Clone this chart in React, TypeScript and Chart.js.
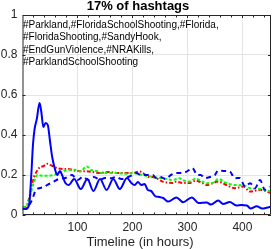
import React, { useEffect, useRef } from "react";
import { Chart, registerables } from "chart.js";

Chart.register(...registerables);

const titleText = "17% of hashtags";
const xAxisTitle = "Timeline (in hours)";
const annotationLines = [
  "#Parkland,#FloridaSchoolShooting,#Florida,",
  "#FloridaShooting,#SandyHook,",
  "#EndGunViolence,#NRAKills,",
  "#ParklandSchoolShooting",
];
const xTickValues = [100, 200, 300, 400];
const yTickValues = [0, 0.2, 0.4, 0.6, 0.8, 1];

const blueSolidHours = [0, 6, 12, 16, 19, 22, 26, 31, 34, 38, 42, 46, 50, 54, 59, 63, 68, 72, 78, 84, 94, 106, 118, 129, 141, 153, 165, 177, 190, 198, 204, 210, 216, 222, 228, 234, 241, 249, 256, 265, 280, 292, 308, 320, 335, 343, 356, 365, 377, 389, 398, 408, 415, 426, 436, 444, 452];
const blueSolidValues = [0.03, 0.03, 0.05, 0.2, 0.35, 0.43, 0.48, 0.56, 0.52, 0.44, 0.46, 0.45, 0.37, 0.29, 0.23, 0.2, 0.22, 0.2, 0.16, 0.15, 0.18, 0.13, 0.18, 0.12, 0.18, 0.125, 0.18, 0.13, 0.185, 0.16, 0.15, 0.165, 0.15, 0.155, 0.125, 0.12, 0.095, 0.09, 0.085, 0.067, 0.088, 0.064, 0.088, 0.06, 0.062, 0.052, 0.072, 0.055, 0.065, 0.048, 0.05, 0.048, 0.032, 0.044, 0.032, 0.036, 0.042];

const blueDashedHours = [0, 6, 12, 18, 24, 30, 39, 45, 57, 66, 78, 90, 100, 110, 120, 130, 141, 150, 160, 170, 180, 192, 200, 207, 215, 225, 237, 243, 251, 260, 270, 280, 290, 297, 303, 309, 318, 324, 332, 341, 350, 356, 368, 377, 386, 395, 405, 414, 423, 432, 441, 452];
const blueDashedValues = [0.03, 0.03, 0.05, 0.08, 0.125, 0.134, 0.14, 0.15, 0.167, 0.18, 0.185, 0.2, 0.175, 0.19, 0.175, 0.19, 0.176, 0.185, 0.184, 0.19, 0.18, 0.19, 0.2, 0.21, 0.2, 0.2, 0.2, 0.185, 0.19, 0.18, 0.2, 0.21, 0.21, 0.215, 0.225, 0.235, 0.2, 0.2, 0.184, 0.19, 0.2, 0.223, 0.22, 0.218, 0.184, 0.185, 0.142, 0.159, 0.134, 0.175, 0.126, 0.142];

const greenHours = [0, 6, 12, 18, 21, 27, 39, 57, 72, 87, 95, 105, 117, 125, 135, 141, 153, 171, 190, 201, 219, 237, 255, 273, 285, 291, 303, 315, 327, 335, 346, 356, 371, 386, 402, 414, 432, 452];
const greenValues = [0.04, 0.04, 0.075, 0.14, 0.167, 0.2, 0.196, 0.2, 0.218, 0.226, 0.226, 0.218, 0.243, 0.225, 0.22, 0.21, 0.21, 0.21, 0.206, 0.21, 0.2, 0.19, 0.184, 0.175, 0.184, 0.175, 0.167, 0.182, 0.167, 0.159, 0.16, 0.18, 0.16, 0.15, 0.148, 0.134, 0.13, 0.117];

const redHours = [0, 6, 12, 18, 21, 30, 39, 45, 54, 63, 75, 83, 98, 120, 141, 156, 174, 193, 201, 213, 219, 231, 237, 255, 273, 280, 291, 303, 315, 327, 335, 356, 371, 386, 402, 414, 432, 452];
const redValues = [0.04, 0.04, 0.084, 0.16, 0.19, 0.234, 0.246, 0.256, 0.246, 0.234, 0.23, 0.23, 0.22, 0.218, 0.21, 0.215, 0.21, 0.21, 0.21, 0.218, 0.21, 0.19, 0.19, 0.167, 0.16, 0.167, 0.16, 0.16, 0.172, 0.16, 0.15, 0.167, 0.15, 0.134, 0.142, 0.117, 0.126, 0.109];

const FONT = '"Liberation Sans", Arial, Helvetica, sans-serif';

const toPoints = (xs: number[], ys: number[]) => xs.map((x, i) => ({ x, y: ys[i] }));

const framePlugin = {
  id: "frame",
  afterDatasetsDraw(chart: any) {
    const { ctx, chartArea } = chart;
    const { left, right, top, bottom } = chartArea;
    const xs = chart.scales.x;
    const ys = chart.scales.y;
    ctx.save();
    ctx.strokeStyle = "#262626";
    ctx.lineWidth = 1;
    ctx.beginPath();
    ctx.rect(left + 0.5, top + 0.5, right - left - 1, bottom - top - 1);
    ctx.stroke();
    // inward ticks on x (minor every 20, major every 100)
    for (let v = 20; v < xs.max; v += 20) {
      const px = Math.round(xs.getPixelForValue(v)) + 0.5;
      const len = v % 100 === 0 ? 3 : 2.5;
      ctx.beginPath();
      ctx.moveTo(px, bottom);
      ctx.lineTo(px, bottom - len);
      ctx.moveTo(px, top);
      ctx.lineTo(px, top + len);
      ctx.stroke();
    }
    for (const v of yTickValues) {
      const py = Math.round(ys.getPixelForValue(v)) + 0.5;
      ctx.beginPath();
      ctx.moveTo(left, py);
      ctx.lineTo(left + 3, py);
      ctx.moveTo(right, py);
      ctx.lineTo(right - 3, py);
      ctx.stroke();
    }
    ctx.restore();
  },
  afterDraw(chart: any) {
    const { ctx, chartArea } = chart;
    ctx.save();
    ctx.fillStyle = "#000";
    ctx.textBaseline = "middle";
    ctx.textAlign = "center";
    ctx.font = `bold 13px ${FONT}`;
    ctx.fillText(titleText, 138, 6.5);
    ctx.font = `13px ${FONT}`;
    ctx.fillStyle = "#262626";
    ctx.fillText(xAxisTitle, 140, 242);
    ctx.textAlign = "left";
    ctx.fillStyle = "#000";
    ctx.font = `10px ${FONT}`;
    annotationLines.forEach((line, i) => {
      ctx.fillText(line, chartArea.left + 0.5, 25 + i * 12.5);
    });
    ctx.restore();
  },
};

export default function App() {
  const ref = useRef<HTMLCanvasElement | null>(null);
  useEffect(() => {
    document.body.style.margin = "0";
    const canvas = ref.current;
    if (!canvas) return;
    const chart = new Chart(canvas, {
      type: "line",
      data: {
        datasets: [
          {
            data: toPoints(blueSolidHours, blueSolidValues),
            borderColor: "#0000ff",
            borderWidth: 2,
            pointRadius: 0,
            cubicInterpolationMode: "monotone",
            fill: false,
          },
          {
            data: toPoints(blueDashedHours, blueDashedValues),
            borderColor: "#0000ff",
            borderWidth: 2,
            borderDash: [5, 4],
            pointRadius: 0,
            cubicInterpolationMode: "monotone",
            fill: false,
          },
          {
            data: toPoints(greenHours, greenValues),
            borderColor: "#00ff00",
            borderWidth: 2,
            borderDash: [3, 2],
            pointRadius: 0,
            cubicInterpolationMode: "monotone",
            fill: false,
          },
          {
            data: toPoints(redHours, redValues),
            borderColor: "#ff0000",
            borderWidth: 2,
            borderDash: [4, 2, 1.5, 2],
            pointRadius: 0,
            cubicInterpolationMode: "monotone",
            fill: false,
          },
        ],
      },
      options: {
        responsive: false,
        animation: false,
        events: [],
        layout: { padding: { top: 15, right: 3, left: 0, bottom: 0 } },
        plugins: {
          legend: { display: false },
          title: { display: false },
          tooltip: { enabled: false },
        },
        scales: {
          x: {
            type: "linear",
            min: 0,
            max: 452,
            afterBuildTicks: (scale: any) => {
              scale.ticks = xTickValues.map((v) => ({ value: v }));
            },
            afterFit: (scale: any) => {
              scale.height = 34;
            },
            grid: { color: "#e4e4e4", lineWidth: 1, drawTicks: false },
            border: { display: false },
            ticks: {
              padding: 5,
              maxRotation: 0,
              color: "#262626",
              font: { family: FONT, size: 12 },
            },
          },
          y: {
            type: "linear",
            min: 0,
            max: 1,
            afterBuildTicks: (scale: any) => {
              scale.ticks = yTickValues.map((v) => ({ value: v }));
            },
            afterFit: (scale: any) => {
              scale.width = 22.5;
            },
            grid: { color: "#e4e4e4", lineWidth: 1, drawTicks: false },
            border: { display: false },
            ticks: {
              padding: 5,
              color: "#262626",
              font: { family: FONT, size: 12 },
              callback: (v: any) => String(Math.round(Number(v) * 10) / 10),
            },
          },
        },
      },
      plugins: [framePlugin],
    } as any);
    return () => chart.destroy();
  }, []);
  return (
    <div style={{ width: 274, height: 249 }}>
      <canvas ref={ref} width={274} height={249} style={{ display: "block", width: 274, height: 249 }} />
    </div>
  );
}
